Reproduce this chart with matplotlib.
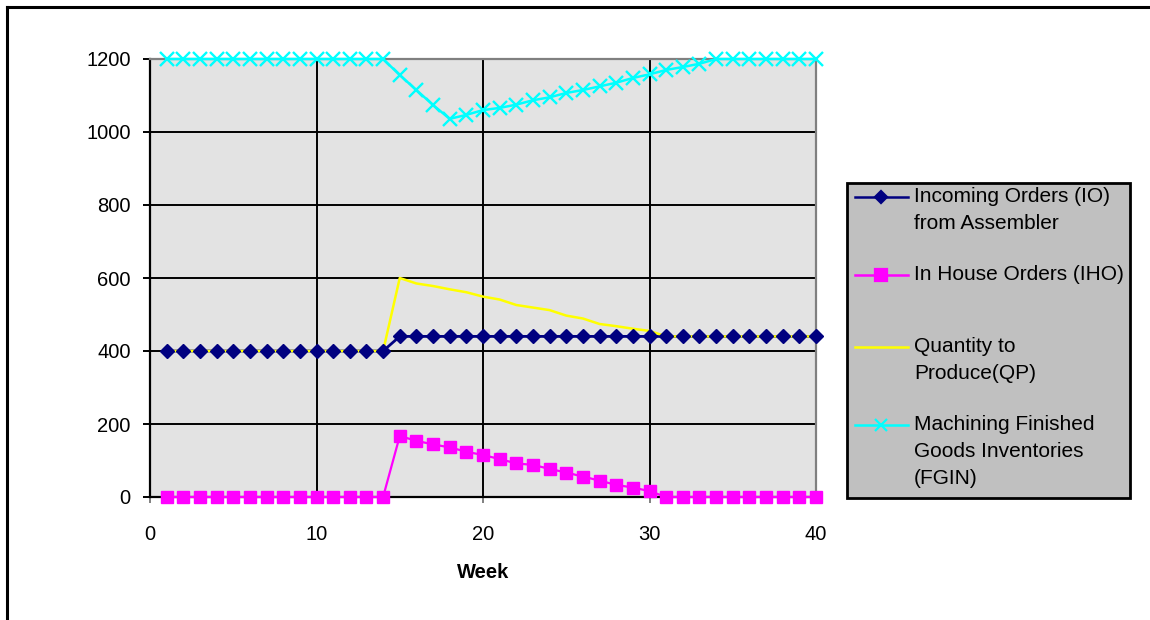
import matplotlib
matplotlib.use("Agg")
import matplotlib.pyplot as plt
from matplotlib.lines import Line2D
from matplotlib.patches import Rectangle

plt.rcParams['font.family'] = ['Liberation Sans', 'DejaVu Sans']

# data
weeks = list(range(1, 41))
io = [400] * 14 + [440] * 26
iho = [0] * 14 + [167, 154, 144, 136, 124, 115, 104, 92, 88, 77, 67, 56, 45, 33, 26, 16] + [0] * 10
qp = [400] * 14 + [600, 585, 578, 569, 561, 549, 541, 526, 519, 512, 497, 489, 474, 468, 461, 455] + [440] * 10
fgin = [1200] * 14 + [1156, 1115, 1074, 1036, 1047, 1060, 1066, 1075, 1087, 1095, 1107, 1115,
                      1125, 1135, 1148, 1158, 1170, 1178, 1187] + [1200] * 7

labels = ["Incoming Orders (IO)\nfrom Assembler", "In House Orders (IHO)",
          "Quantity to\nProduce(QP)", "Machining Finished\nGoods Inventories\n(FGIN)"]
colors = ["#000080", "#FF00FF", "#FFFF00", "#00FFFF"]

W, H = 1150, 620
fig = plt.figure(figsize=(W / 100, H / 100), dpi=100)


def fx(x):
    return x / W


def fy(y):
    return 1 - y / H


ax = fig.add_axes([fx(150), fy(497), fx(816) - fx(150), fy(59) - fy(497)])
ax.set_facecolor("#E3E3E3")
ax.set_xlim(0, 40)
ax.set_ylim(0, 1200)
ax.set_xticks([0, 10, 20, 30, 40])
ax.set_yticks(range(0, 1201, 200))
ax.grid(True, color="black", linewidth=1.4)
ax.set_axisbelow(True)

# lines first (series order), then markers on top
ax.plot(weeks, io, color=colors[0], lw=2, clip_on=False, zorder=3)
ax.plot(weeks, iho, color=colors[1], lw=1.6, clip_on=False, zorder=3)
ax.plot(weeks, qp, color=colors[2], lw=1.8, clip_on=False, zorder=4)
ax.plot(weeks, fgin, color=colors[3], lw=1.8, clip_on=False, zorder=4)
ax.plot(weeks, io, ls="none", marker="D", ms=7.4, color=colors[0], clip_on=False, zorder=5)
ax.plot(weeks, iho, ls="none", marker="s", ms=8.8, color=colors[1], clip_on=False, zorder=5)
ax.plot(weeks, fgin, ls="none", marker="x", ms=9.5, mew=1.7, color=colors[3], clip_on=False, zorder=5)

for s in ["top", "right"]:
    ax.spines[s].set_color("#808080")
    ax.spines[s].set_linewidth(1.6)
for s in ["left", "bottom"]:
    ax.spines[s].set_color("black")
    ax.spines[s].set_linewidth(1.6)
ax.tick_params(axis="y", length=5, width=1.4, pad=9, labelsize=14.5)
ax.tick_params(axis="x", length=4, width=1.4, pad=16, labelsize=14.5, color="#808080")
ax.set_xlabel("Week", fontsize=14.5, fontweight="bold", labelpad=14)

# legend box drawn by hand to follow the original layout
fig.add_artist(Rectangle((fx(847), fy(498)), fx(1130) - fx(847), fy(183) - fy(498),
                         transform=fig.transFigure, facecolor="#C0C0C0",
                         edgecolor="black", lw=2))
rows = [197, 275, 347, 425]
markers = [("D", 6.5), ("s", 8.5), (None, 0), ("x", 9)]
for lab, c, y, (m, ms) in zip(labels, colors, rows, markers):
    fig.add_artist(Line2D([fx(855), fx(908)], [fy(y), fy(y)], color=c, lw=1.8,
                          transform=fig.transFigure))
    if m:
        fig.add_artist(Line2D([fx(881)], [fy(y)], color=c, marker=m, ms=ms, mew=1.6,
                              transform=fig.transFigure))
    fig.text(fx(914), fy(y - 10), lab, fontsize=15, va="top", ha="left",
             linespacing=1.52)

# outer chart frame (top and left edges visible)
fig.add_artist(Line2D([fx(7), fx(1150)], [fy(6.5), fy(6.5)], color="black", lw=2.2,
                      transform=fig.transFigure))
fig.add_artist(Line2D([fx(7), fx(7)], [fy(6.5), fy(620)], color="black", lw=2.2,
                      transform=fig.transFigure))

fig.savefig("out.png", dpi=100)
